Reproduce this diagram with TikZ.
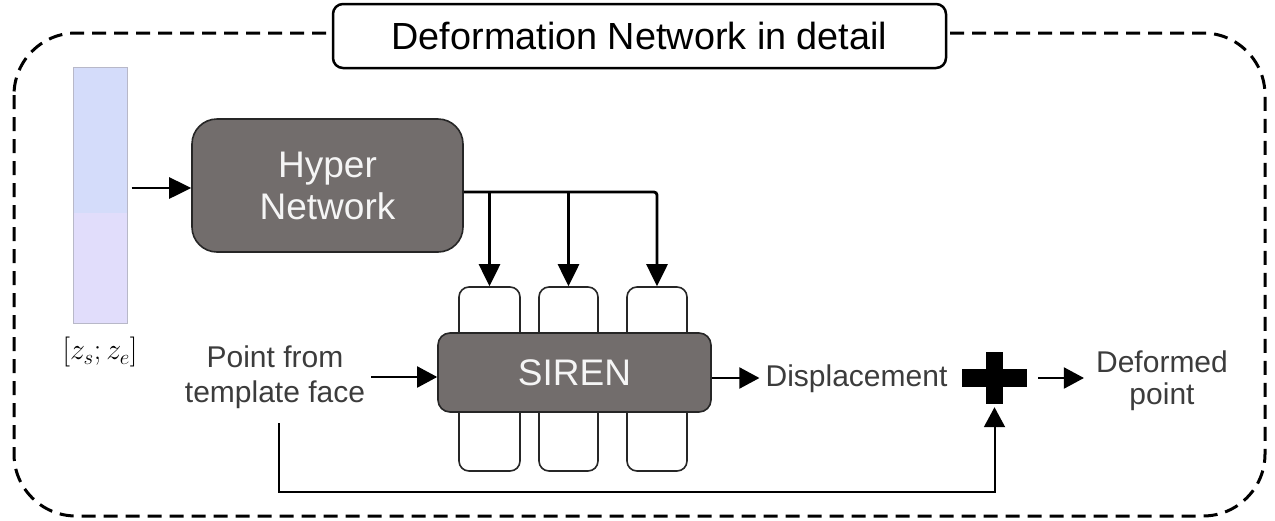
\documentclass[tikz,border=0pt]{standalone}
\usepackage{fix-cm}
\usepackage{fontspec}
\setmainfont{Liberation Sans}
\usetikzlibrary{arrows.meta,calc}
\definecolor{boxgray}{HTML}{726D6C}
\definecolor{txtgray}{HTML}{3C3C3C}
\definecolor{barblue}{HTML}{D4DCFA}
\definecolor{barlav}{HTML}{E1DDFB}
\definecolor{barline}{HTML}{B8B8C8}
\begin{document}
\begin{tikzpicture}[x=1pt,y=-1pt,
  darkbox/.style={draw=black!85,line width=1.6pt,fill=boxgray,text=white!96!black,inner sep=0pt,
    font=\fontsize{37}{42}\selectfont,align=center},
  smallbox/.style={draw=black!85,line width=1.6pt,fill=white,rounded corners=10pt,inner sep=0pt,
    minimum height=184pt},
  lbl/.style={text=txtgray,font=\fontsize{30}{35}\selectfont,align=center,inner sep=0pt},
  thickarr/.style={line width=2.8pt,-{Triangle[length=22pt,width=21pt]}},
  thinarr/.style={line width=2pt,-{Triangle[length=20pt,width=21pt]}},
  thinline/.style={line width=2pt},
  outerdash/.style={line width=3pt,dash pattern=on 14pt off 8pt,rounded corners=62pt}
]
\useasboundingbox (0,0) rectangle (1275,520);

% outer dashed frame
\draw[outerdash] (14,33) rectangle (1265,516);

% title
\node[draw,line width=2.5pt,fill=white,rounded corners=10pt,minimum width=613pt,minimum height=64pt,
  inner sep=0pt,font=\fontsize{37.8}{42}\selectfont] (title) at (639.5,36) {Deformation Network in detail};

% latent vector bar
\fill[barblue] (73,67) rectangle (127,213);
\fill[barlav] (73,213) rectangle (127,323);
\node[draw=barline,line width=1pt,minimum width=54pt,minimum height=256pt,inner sep=0pt] (bar) at (100,195) {};
\node[inner sep=0pt,font=\fontsize{30}{34}\selectfont] (zlab) at (100,352) {$[z_s;z_e]$};

% hyper network
\node[darkbox,rounded corners=25pt,minimum width=271pt,minimum height=133pt] (hyper) at (327.5,185.5) {Hyper\\Network};

% small boxes
\node[smallbox,minimum width=61pt] (sm1) at (489.5,379) {};
\node[smallbox,minimum width=59pt] (sm2) at (568.5,379) {};
\node[smallbox,minimum width=60pt] (sm3) at (657,379) {};

% SIREN
\node[darkbox,rounded corners=12pt,minimum width=273pt,minimum height=79pt] (siren) at (574.5,372.5) {SIREN};

% labels
\node[lbl] (point) at (275,377) {Point from\\template face};
\node[lbl,anchor=base] (disp) at (856.5,386) {Displacement};
\node[lbl,font=\fontsize{30}{32}\selectfont] (deformed) at (1162,381) {Deformed\\point};

% plus sign
\node[minimum width=65pt,minimum height=52pt,inner sep=0pt] (plus) at (994.5,378) {};
\fill ($(plus.center)+(-32.5,-9)$) rectangle ($(plus.center)+(32.5,9)$);
\fill ($(plus.center)+(-8.5,-26)$) rectangle ($(plus.center)+(8.5,26)$);

% connectors
\draw[thickarr] ([xshift=4pt,yshift=-2.5pt]bar.east |- hyper.west) -- ([yshift=-2.5pt]hyper.west);
\coordinate (hy) at ([yshift=-6.5pt]hyper.east);
\draw[thickarr,rounded corners=3pt] (hy) -| (sm3.north);
\draw[thickarr] (hy -| sm1.north) -- (sm1.north);
\draw[thickarr] (hy -| sm2.north) -- (sm2.north);

\draw[thinarr] ([yshift=-4.5pt]siren.west -| point.east) ++(6,0) -- ([yshift=-4.5pt]siren.west);
\draw[thinarr] ([yshift=-5.5pt]siren.east) -- ([yshift=-5.5pt,xshift=-6pt]siren.east -| disp.west);
\draw[thinarr] ([xshift=11pt]plus.east) -- ([xshift=-12pt]plus.east -| deformed.west);

\coordinate (ls) at (279,423);
\coordinate (lb) at (279,492);
\draw[thinline,-{Triangle[length=20pt,width=21pt]}] (ls) -- (lb) -| ([yshift=-3pt]plus.south);
\end{tikzpicture}
\end{document}
